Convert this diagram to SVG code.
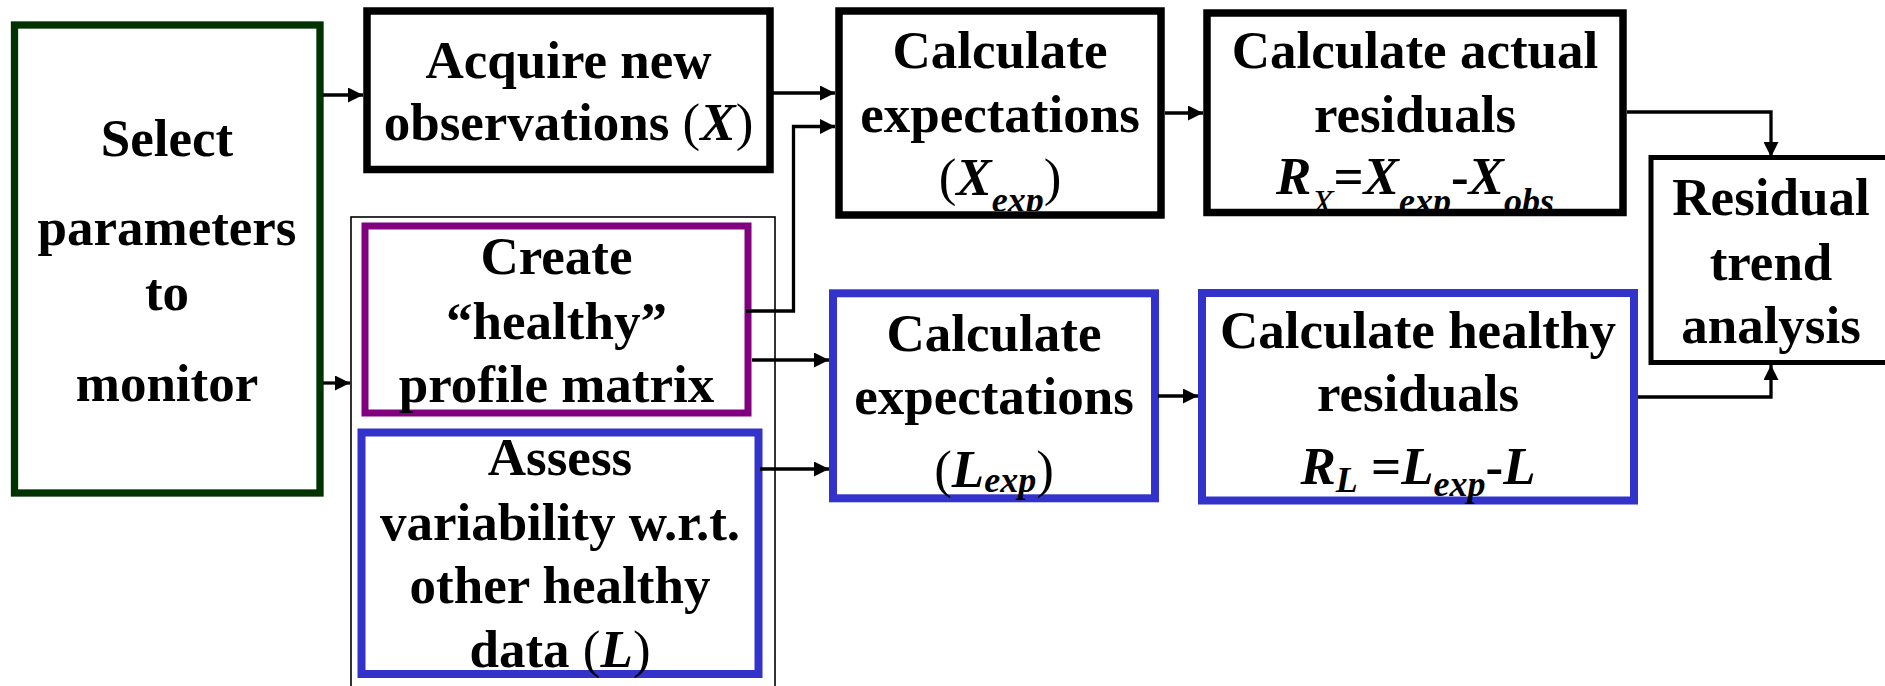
<svg xmlns="http://www.w3.org/2000/svg" width="1885" height="686" viewBox="0 0 1885 686">
<style>
.t{font-family:"Liberation Serif","Times New Roman",serif;font-weight:bold;font-size:53px;text-anchor:middle;fill:#000}
.i{font-style:italic}
.n{font-weight:normal}
.s{font-size:36px}
.box{fill:#fff}
.k{stroke:#000}
.g{stroke:#003300}
.p{stroke:#800080}
.b{stroke:#3333CC}
.c{fill:none;stroke:#000;stroke-width:3.3}
</style>
<defs>
<marker id="ah" markerUnits="userSpaceOnUse" markerWidth="15" markerHeight="15" refX="15" refY="7.5" orient="auto">
<path d="M0,0 L15,7.5 L0,15 Z" fill="#000"/>
</marker>
<clipPath id="clipx"><rect x="843" y="15" width="314" height="196"/></clipPath>
<clipPath id="clipa"><rect x="1211" y="17" width="408" height="192"/></clipPath>
</defs>
<rect x="0" y="0" width="1885" height="686" fill="#fff"/>

<g id="frame">
<rect x="351" y="217" width="424" height="490" fill="none" stroke="#000" stroke-width="1.6"/>
</g>

<g id="select">
<rect class="box g" x="14.5" y="25" width="305.5" height="468" stroke-width="7.3"/>
<text class="t" x="167" y="156">Select</text>
<text class="t" x="167" y="245">parameters</text>
<text class="t" x="167" y="310">to</text>
<text class="t" x="167" y="401">monitor</text>
</g>

<g id="acquire">
<rect class="box k" x="367" y="11" width="403" height="158.5" stroke-width="7.5"/>
<text class="t" x="568.5" y="78">Acquire new</text>
<text class="t" x="568.5" y="140">observations <tspan class="n">(</tspan><tspan class="i">X</tspan><tspan class="n">)</tspan></text>
</g>

<g id="calcx">
<rect class="box k" x="839" y="11" width="322" height="204" stroke-width="7.5"/>
<text class="t" x="1000" y="68">Calculate</text>
<text class="t" x="1000" y="132">expectations</text>
<text class="t" x="1000" y="195" clip-path="url(#clipx)"><tspan class="n">(</tspan><tspan class="i">X</tspan><tspan class="i s" dy="17">exp</tspan><tspan class="n" dy="-17">)</tspan></text>
</g>

<g id="actual">
<rect class="box k" x="1207" y="13" width="416" height="199.5" stroke-width="7.5"/>
<text class="t" x="1415" y="68">Calculate actual</text>
<text class="t" x="1415" y="132">residuals</text>
<text class="t" x="1415" y="193.5" clip-path="url(#clipa)"><tspan class="i">R</tspan><tspan class="i n s" dy="21">X</tspan><tspan dy="-21">=</tspan><tspan class="i">X</tspan><tspan class="i s" dy="19">exp</tspan><tspan dy="-19">-</tspan><tspan class="i">X</tspan><tspan class="i s" dy="19">obs</tspan></text>
</g>

<g id="trend">
<rect class="box k" x="1651" y="157.5" width="240" height="205" stroke-width="5"/>
<text class="t" x="1771" y="215">Residual</text>
<text class="t" x="1771" y="280">trend</text>
<text class="t" x="1771" y="343">analysis</text>
</g>

<g id="create">
<rect class="box p" x="365" y="226" width="383" height="187" stroke-width="7"/>
<text class="t" x="556.5" y="274">Create</text>
<text class="t" x="556.5" y="339">“healthy”</text>
<text class="t" x="556.5" y="401.5">profile matrix</text>
</g>

<g id="assess">
<rect class="box b" x="361.5" y="432.5" width="397" height="241.5" stroke-width="8"/>
<text class="t" x="560" y="475">Assess</text>
<text class="t" x="560" y="540">variability w.r.t.</text>
<text class="t" x="560" y="603">other healthy</text>
<text class="t" x="560" y="667">data <tspan class="n">(</tspan><tspan class="i">L</tspan><tspan class="n">)</tspan></text>
</g>

<g id="calcl">
<rect class="box b" x="833" y="293.3" width="322" height="205" stroke-width="8"/>
<text class="t" x="994" y="351">Calculate</text>
<text class="t" x="994" y="414">expectations</text>
<text class="t" x="994" y="487"><tspan class="n">(</tspan><tspan class="i">L</tspan><tspan class="i s" dy="5">exp</tspan><tspan class="n" dy="-5">)</tspan></text>
</g>

<g id="healthy">
<rect class="box b" x="1202" y="293" width="432" height="207.5" stroke-width="8"/>
<text class="t" x="1418" y="347.5">Calculate healthy</text>
<text class="t" x="1418" y="411">residuals</text>
<text class="t" x="1418" y="483.5"><tspan class="i">R</tspan><tspan class="i s" dy="8">L</tspan><tspan dy="-8"> =</tspan><tspan class="i">L</tspan><tspan class="i s" dy="12">exp</tspan><tspan dy="-12">-</tspan><tspan class="i">L</tspan></text>
</g>

<g id="connectors">
<path class="c" d="M323,95 H363" marker-end="url(#ah)"/>
<path class="c" d="M323,383 H350" marker-end="url(#ah)"/>
<path class="c" d="M773,93 H835" marker-end="url(#ah)"/>
<path class="c" d="M746,311 H793.5 V126.5 H835" marker-end="url(#ah)"/>
<path class="c" d="M752,360 H829" marker-end="url(#ah)"/>
<path class="c" d="M760,469 H829" marker-end="url(#ah)"/>
<path class="c" d="M1165,113 H1203" marker-end="url(#ah)"/>
<path class="c" d="M1158,396 H1198" marker-end="url(#ah)"/>
<path class="c" d="M1627,112 H1771 V157" marker-end="url(#ah)"/>
<path class="c" d="M1638,397 H1771 V365" marker-end="url(#ah)"/>
</g>
</svg>
